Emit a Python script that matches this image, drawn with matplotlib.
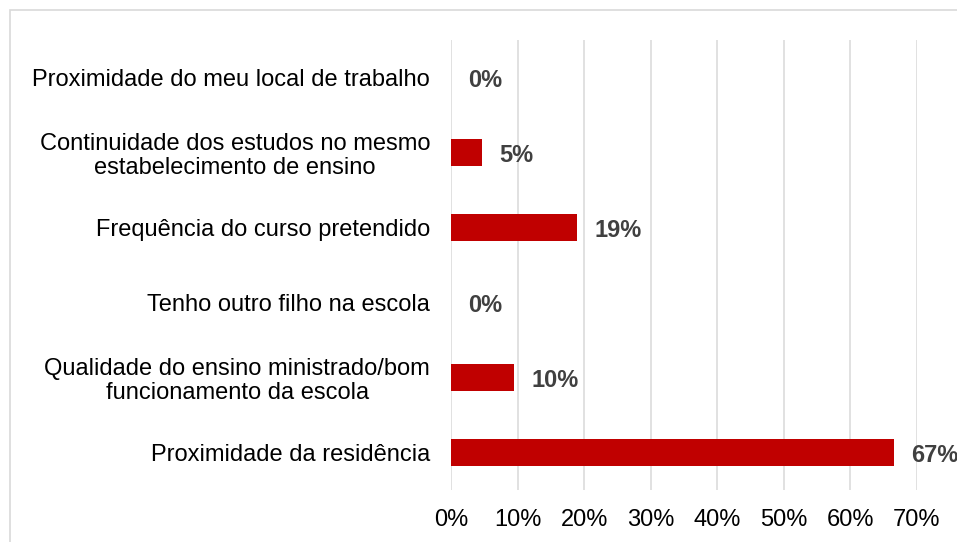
import matplotlib
matplotlib.use("Agg")
import matplotlib.pyplot as plt
from matplotlib.patches import Rectangle

categories = [
    "Proximidade do meu local de trabalho",
    "Continuidade dos estudos no mesmo\nestabelecimento de ensino",
    "Frequência do curso pretendido",
    "Tenho outro filho na escola",
    "Qualidade do ensino ministrado/bom\nfuncionamento da escola",
    "Proximidade da residência",
]
values = [0.0, 0.047, 0.189, 0.0, 0.095, 0.665]
value_labels = ["0%", "5%", "19%", "0%", "10%", "67%"]
xticks = [0, 0.1, 0.2, 0.3, 0.4, 0.5, 0.6, 0.7]
xtick_labels = ["0%", "10%", "20%", "30%", "40%", "50%", "60%", "70%"]

plt.rcParams['font.family'] = ['Liberation Sans', 'DejaVu Sans']
FS = 17

fig = plt.figure(figsize=(9.57, 5.42), dpi=100)
ax = fig.add_axes([451/957, 52/542, (917-451)/957, 450/542])

# outer border
fig.patches.append(Rectangle((10/957, -0.1), 1.2, (532/542) + 0.1,
                             transform=fig.transFigure, fill=False,
                             edgecolor="#D9D9D9", linewidth=1.2, zorder=0))

n = len(categories)
ypos = list(range(n))[::-1]
ax.barh(ypos, values, height=0.35, color="#C00000", zorder=3)
for y, v, lab in zip(ypos, values, value_labels):
    ax.annotate(lab, xy=(v, y), xytext=(12.5, -2.5), textcoords="offset points",
                ha="left", va="center", fontsize=FS, fontweight="bold",
                color="#404040", annotation_clip=False)

ax.set_ylim(-0.5, n - 0.5)
ax.set_xlim(0, 0.7)
ax.set_yticks(ypos)
ax.set_yticklabels(categories, fontsize=FS, color="#000000")
ax.tick_params(axis="y", length=0, pad=15)
ax.set_xticks(xticks)
ax.set_xticklabels(xtick_labels, fontsize=FS, color="#000000")
ax.tick_params(axis="x", length=0, pad=14)
ax.grid(axis="x", color="#D9D9D9", linewidth=1.1, zorder=0)
ax.set_axisbelow(True)
for s in ax.spines.values():
    s.set_visible(False)

for lbl in ax.get_yticklabels():
    lbl.set_horizontalalignment("right")
    lbl.set_multialignment("center")
    lbl.set_linespacing(1.1)

fig.savefig("out.png", dpi=100)
